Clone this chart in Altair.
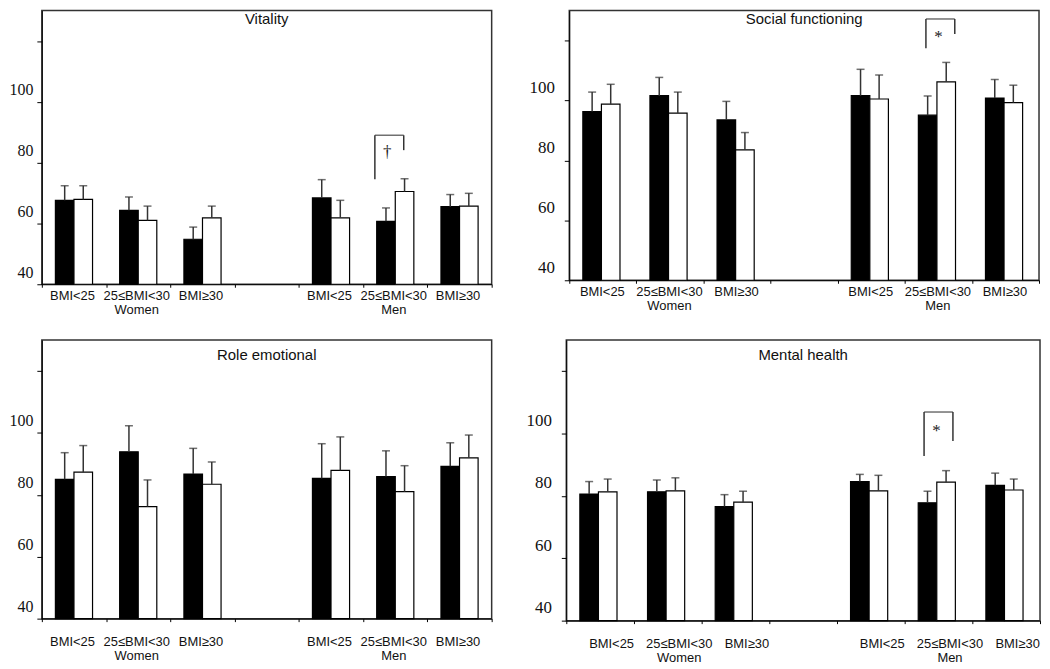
import json
import altair as alt
import pandas as pd

# ---------------- data ----------------
slots = ["w_lt25", "w_25_30", "w_ge30", "gap", "m_lt25", "m_25_30", "m_ge30"]
slot_labels = ["BMI<25", "25≤BMI<30|Women", "BMI≥30", "", "BMI<25", "25≤BMI<30|Men", "BMI≥30"]
groups = ["w_lt25", "w_25_30", "w_ge30", "m_lt25", "m_25_30", "m_ge30"]
series = ["black", "white"]

y_ticks = [40, 60, 80, 100, 120]
y_domain = [40, 130]

vit_black = [67.6, 64.3, 54.8, 68.4, 60.7, 65.5]
vit_black_err = [72.4, 68.7, 58.8, 74.4, 65.1, 69.5]
vit_white = [67.9, 61.0, 61.8, 61.8, 70.5, 65.7]
vit_white_err = [72.4, 65.7, 65.7, 67.6, 74.7, 69.9]

soc_black = [96.3, 101.6, 93.5, 101.6, 95.1, 100.8]
soc_black_err = [102.8, 107.7, 99.7, 110.4, 101.5, 107.0]
soc_white = [98.8, 95.8, 83.5, 100.5, 106.2, 99.3]
soc_white_err = [105.4, 102.8, 89.3, 108.5, 112.7, 105.1]

role_black = [85.0, 93.9, 86.7, 85.3, 85.9, 89.2]
role_black_err = [93.6, 102.3, 95.0, 96.5, 94.2, 96.8]
role_white = [87.3, 76.2, 83.4, 87.9, 81.0, 91.9]
role_white_err = [95.9, 84.8, 90.6, 98.7, 89.4, 99.3]

mh_black = [80.6, 81.3, 76.6, 84.6, 77.8, 83.4]
mh_black_err = [84.6, 85.1, 80.4, 86.9, 81.5, 87.3]
mh_white = [81.3, 81.6, 78.0, 81.6, 84.4, 81.9]
mh_white_err = [85.4, 85.8, 81.5, 86.6, 88.1, 85.4]

# significance brackets: slot, left-leg bottom, right-leg bottom, top, symbol y, symbol
vit_bracket = ["m_25_30", 74.5, 84.1, 89.0, 83.5, "†"]
soc_bracket = ["m_25_30", 117.4, 122.2, 127.2, 122.4, "*"]
mh_bracket = ["m_25_30", 92.8, 97.6, 106.9, 102.1, "*"]

# ---------------- helpers ----------------
label_expr = " : ".join(
    f"datum.value == '{k}' ? {json.dumps(l.split('|'), ensure_ascii=False)}"
    for k, l in zip(slots, slot_labels)
) + " : ''"


def panel(title, black, black_err, white, white_err, bracket, width, height,
          label_pad, label_offset, title_offset, ylab_size, ylab_pad, bracket_dx):
    rows = []
    for g, b, be, w, we in zip(groups, black, black_err, white, white_err):
        rows.append({"slot": g, "series": "black", "value": b, "err": be, "base": 40})
        rows.append({"slot": g, "series": "white", "value": w, "err": we, "base": 40})
    df = pd.DataFrame(rows)

    X = alt.X(
        "slot:N",
        scale=alt.Scale(domain=slots, paddingInner=0, paddingOuter=0),
        axis=alt.Axis(
            title=None, labelAngle=0, tickBand="extent", tickSize=3,
            tickColor="black", domainColor="black", labelExpr=label_expr,
            labelFont="Liberation Sans", labelFontSize=13, labelColor="#111",
            labelPadding=label_pad, labelOffset=label_offset, labelLineHeight=14,
            labelBaseline="top",
        ),
    )
    XO = alt.XOffset("series:N", scale=alt.Scale(domain=series, paddingInner=0, paddingOuter=0.73))
    Y = alt.Y(
        "value:Q",
        scale=alt.Scale(domain=y_domain, zero=False, nice=False),
        axis=alt.Axis(
            title=None, values=y_ticks, grid=False, tickSize=5, tickColor="black",
            domainColor="black", labelExpr="datum.value == 120 ? '' : datum.label",
            labelFont="Liberation Serif", labelFontSize=ylab_size, labelColor="#111",
            labelPadding=ylab_pad, labelBaseline="bottom", labelOffset=-4,
        ),
    )

    bars = alt.Chart(df).mark_bar(stroke="black", strokeWidth=1.2).encode(
        x=X, xOffset=XO, y=Y, y2="base:Q",
        fill=alt.Fill("series:N", scale=alt.Scale(domain=series, range=["black", "white"]), legend=None),
    )
    errs = alt.Chart(df).mark_rule(color="#333", strokeWidth=1.5).encode(
        x=X, xOffset=XO, y="value:Q", y2="err:Q"
    )
    caps = alt.Chart(df).mark_tick(color="#333", thickness=1.5, size=8).encode(
        x=X, xOffset=XO, y="err:Q"
    )
    layers = [bars, errs, caps]

    if bracket is not None:
        bdf = pd.DataFrame([{
            "slot": bracket[0], "low_left": bracket[1], "low_right": bracket[2],
            "top": bracket[3], "sym_y": bracket[4], "sym": bracket[5],
        }])
        half = 14.5
        left = alt.Chart(bdf).mark_rule(color="#333", strokeWidth=1.5, xOffset=bracket_dx - half).encode(
            x=X, y=alt.Y("low_left:Q"), y2="top:Q")
        right = alt.Chart(bdf).mark_rule(color="#333", strokeWidth=1.5, xOffset=bracket_dx + half).encode(
            x=X, y=alt.Y("low_right:Q"), y2="top:Q")
        top = alt.Chart(bdf).mark_tick(color="#333", thickness=1.5, size=2 * half, xOffset=bracket_dx).encode(
            x=X, y=alt.Y("top:Q"))
        sym = alt.Chart(bdf).mark_text(
            font="Liberation Serif", fontSize=17, color="#222", baseline="middle",
            xOffset=bracket_dx - 2, dy=4 if bracket[5] == "*" else 0,
        ).encode(x=X, y=alt.Y("sym_y:Q"), text="sym:N")
        layers += [left, right, top, sym]

    return alt.layer(*layers).properties(
        width=width, height=height,
        title=alt.TitleParams(
            text=title, anchor="middle", frame="group", offset=title_offset,
            font="Liberation Sans", fontSize=15, fontWeight="normal", color="#111",
        ),
    )


p1 = panel("Vitality", vit_black, vit_black_err, vit_white, vit_white_err, vit_bracket,
           452, 275, 2, -2, -16, 16, 4, -6)
p2 = panel("Social functioning", soc_black, soc_black_err, soc_white, soc_white_err, soc_bracket,
           472, 271, 2, -1, -16, 17, 10, 2)
p3 = panel("Role emotional", role_black, role_black_err, role_white, role_white_err, None,
           452, 280, 14, -2, -23, 16, 4, 0)
p4 = panel("Mental health", mh_black, mh_black_err, mh_white, mh_white_err, mh_bracket,
           476, 282, 14, 11, -23, 17, 10, 0)

chart = alt.vconcat(
    alt.hconcat(p1, p2, spacing=34),
    alt.hconcat(p3, p4, spacing=31),
    spacing=22,
).properties(padding=0).configure_view(stroke="#333", strokeWidth=1.5)

chart.save("out.html", embed_options={"renderer": "svg", "actions": False})
